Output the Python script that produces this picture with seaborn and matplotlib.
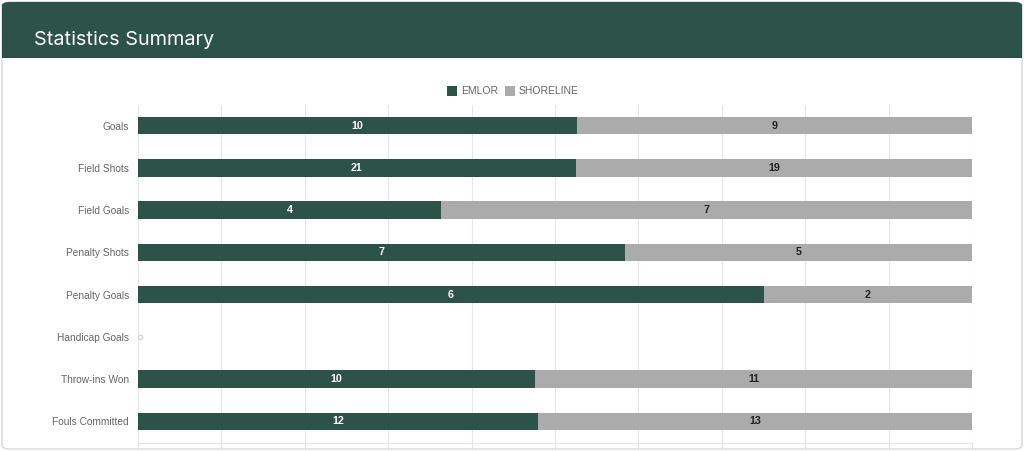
"""Statistics summary: 100% stacked horizontal bars, EMLOR vs SHORELINE."""
import matplotlib
matplotlib.use("Agg")
import matplotlib.pyplot as plt
from matplotlib.patches import FancyBboxPatch, Rectangle
import numpy as np
import pandas as pd
import seaborn as sns

categories = ["Goals", "Field Shots", "Field Goals", "Penalty Shots",
              "Penalty Goals", "Handicap Goals", "Throw-ins Won", "Fouls Committed"]
emlor = [10, 21, 4, 7, 6, 0, 10, 12]
shoreline = [9, 19, 7, 5, 2, 0, 11, 13]

GREEN = "#2d5247"
GRAY = "#ababab"
SMALL = ["Liberation Sans", "DejaVu Sans"]

W, H = 1024, 451


def main() -> None:
    sns.set_theme(style="white")
    plt.rcParams["font.family"] = ["Inter", "DejaVu Sans"]

    e = np.array(emlor, dtype=float)
    s = np.array(shoreline, dtype=float)
    tot = e + s
    with np.errstate(invalid="ignore", divide="ignore"):
        e_pct = np.where(tot > 0, e / tot * 100, 0.0)
        s_pct = np.where(tot > 0, s / tot * 100, 0.0)
    df = pd.DataFrame({
        "category": categories,
        "emlor": e_pct,
        "total": e_pct + s_pct,
    })

    fig = plt.figure(figsize=(W / 100, H / 100), dpi=100)
    fig.patch.set_facecolor("white")

    # card and header
    card = FancyBboxPatch((2 / W, 2 / H), (W - 4) / W, (H - 4) / H,
                          boxstyle="round,pad=0,rounding_size=0.008",
                          transform=fig.transFigure, facecolor="white",
                          edgecolor="#d6d6d6", linewidth=1.0, zorder=-3)
    fig.patches.append(card)
    header = FancyBboxPatch((2 / W, (H - 58) / H), (W - 4) / W, 56 / H,
                            boxstyle="round,pad=0,rounding_size=0.008",
                            transform=fig.transFigure, facecolor=GREEN,
                            edgecolor="none", zorder=-2)
    fig.patches.append(header)
    fig.patches.append(Rectangle((2 / W, (H - 58) / H), (W - 4) / W, 12 / H,
                                 transform=fig.transFigure, facecolor=GREEN,
                                 edgecolor="none", zorder=-2))
    fig.text(34 / W, 1 - 40 / H, "Statistics Summary", color="white",
             fontsize=14.3, va="center", ha="left")

    ax = fig.add_axes([138 / W, 1 - 442.5 / H, (972 - 138) / W, (442.5 - 104.5) / H])
    ax.set_facecolor("none")
    ax.set_zorder(2)

    sns.barplot(data=df, y="category", x="total", color=GRAY, orient="h",
                width=0.41, ax=ax, saturation=1, linewidth=0, zorder=3)
    sns.barplot(data=df, y="category", x="emlor", color=GREEN, orient="h",
                width=0.41, ax=ax, saturation=1, linewidth=0, zorder=4)

    for i, (ev, sv, ep, tp) in enumerate(zip(emlor, shoreline, df["emlor"], df["total"])):
        if ev + sv == 0:
            ax.scatter([0.2], [i], s=10, facecolor="white", edgecolor="#d8d8d8",
                       linewidth=1.0, zorder=5, clip_on=False)
            continue
        ax.text(ep / 2, i, str(ev), color="white", fontsize=7.7, fontweight="bold",
                ha="center", va="center", zorder=6, family=SMALL)
        ax.text((ep + tp) / 2, i, str(sv), color="#222222", fontsize=7.7,
                fontweight="bold", ha="center", va="center", zorder=6, family=SMALL)

    ax.set_xlim(0, 100)
    ax.set_ylim(7.5, -0.5)
    ax.set_xticks(np.arange(0, 101, 10))
    ax.set_xticklabels([])
    ax.tick_params(axis="x", length=5, color="#e6e6e6", width=0.8, bottom=True)
    ax.tick_params(axis="y", length=0, labelsize=7.3, labelcolor="#666666", pad=6.5)
    for lab in ax.get_yticklabels():
        lab.set_family(SMALL)
    ax.grid(axis="x", color="#e6e6e6", linewidth=0.8, zorder=0)
    ax.set_axisbelow(True)
    ax.set_xlabel("")
    ax.set_ylabel("")
    for side in ["top", "right", "left"]:
        ax.spines[side].set_visible(False)
    ax.spines["bottom"].set_color("#e6e6e6")
    ax.spines["bottom"].set_linewidth(0.8)

    # legend
    ly = 1 - 91 / H
    for x0, col, lab in [(447, GREEN, "EMLOR"), (505, GRAY, "SHORELINE")]:
        fig.patches.append(Rectangle((x0 / W, ly - 5 / H), 10 / W, 10 / H,
                                     transform=fig.transFigure, facecolor=col,
                                     edgecolor="none"))
        fig.text((x0 + 14) / W, ly, lab, color="#666666", fontsize=7.5,
                 va="center", ha="left", family=SMALL)

    fig.savefig("out.png", dpi=100, facecolor="white")
    plt.close(fig)


if __name__ == "__main__":
    main()
